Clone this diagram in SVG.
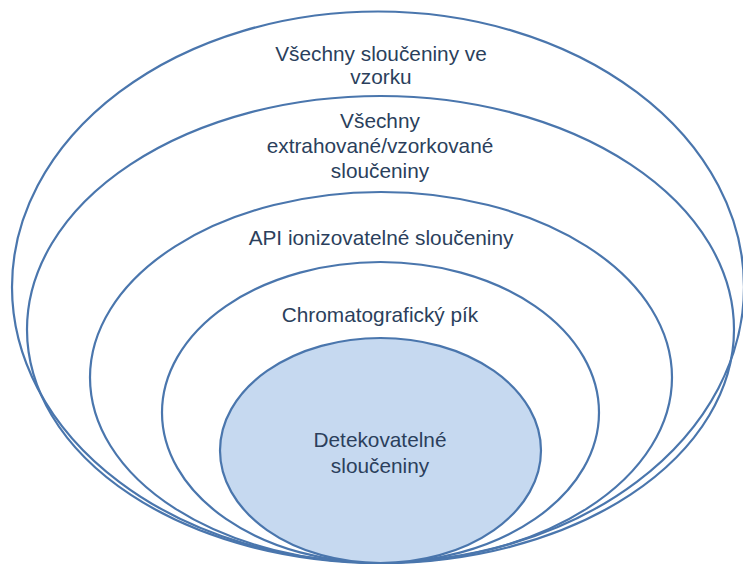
<svg xmlns="http://www.w3.org/2000/svg" width="743" height="565" viewBox="0 0 743 565">
  <style>
    .ring { fill: none; stroke: #4a76ad; stroke-width: 2.2; }
    .core { fill: #c6d9f0; stroke: #4a76ad; stroke-width: 2.2; }
    .label { font-family: "Liberation Sans", Arial, sans-serif; font-size: 20.8px; fill: #2b3f5c; text-anchor: middle; }
  </style>
  <rect width="743" height="565" fill="#ffffff"/>

  <g id="all-compounds">
    <ellipse class="ring" cx="378" cy="287" rx="366" ry="275.5"/>
    <text class="label" x="381" y="61">Všechny sloučeniny ve</text>
    <text class="label" x="381" y="84">vzorku</text>
  </g>

  <g id="extracted-compounds">
    <ellipse class="ring" cx="380.5" cy="329.5" rx="353.5" ry="233.5"/>
    <text class="label" x="380" y="128">Všechny</text>
    <text class="label" x="380" y="153">extrahované/vzorkované</text>
    <text class="label" x="380" y="178">sloučeniny</text>
  </g>

  <g id="api-ionizable">
    <ellipse class="ring" cx="381" cy="377.5" rx="291" ry="185.5"/>
    <text class="label" x="381" y="245">API ionizovatelné sloučeniny</text>
  </g>

  <g id="chromatographic-peak">
    <ellipse class="ring" cx="380.5" cy="412.5" rx="218.5" ry="150.5"/>
    <text class="label" x="380" y="322">Chromatografický pík</text>
  </g>

  <g id="detectable">
    <ellipse class="core" cx="380.5" cy="450.5" rx="160.5" ry="112.5"/>
    <text class="label" x="380" y="447">Detekovatelné</text>
    <text class="label" x="380" y="473">sloučeniny</text>
  </g>
</svg>
